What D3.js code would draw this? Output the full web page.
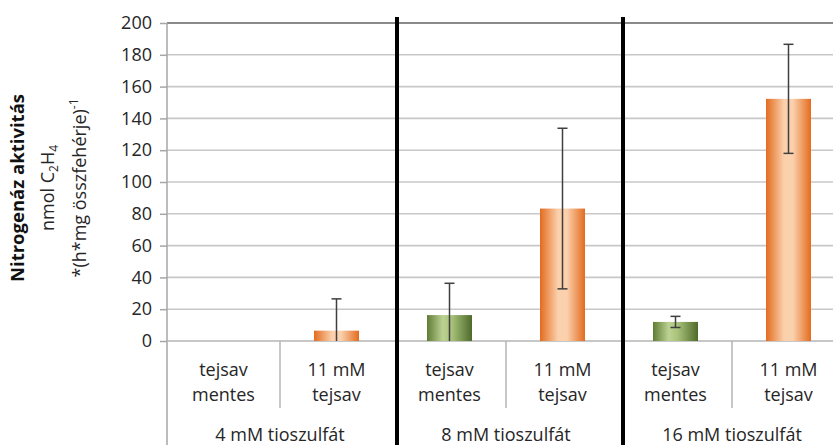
<!DOCTYPE html>
<html>
<head>
<meta charset="utf-8">
<script src="https://cdn.jsdelivr.net/npm/d3@7/dist/d3.min.js"></script>
<style>
  html, body { margin: 0; padding: 0; background: #fff; }
  svg { display: block; font-family: "Open Sans", Lato, sans-serif; }
</style>
</head>
<body>
<svg id="chart" width="833" height="445"></svg>
<script>
// Thiosulfate concentration groups and the two lactate conditions within each
const groups = ["4 mM tioszulfát", "8 mM tioszulfát", "16 mM tioszulfát"];
const subLabels = [["tejsav", "mentes"], ["11 mM", "tejsav"]];
const subKeys = ["mentes", "tejsav"];

// Nitrogenase activity (mean) and error (± value) per bar, in group order
const values = [0, 6.5, 16.3, 83.3, 12, 152.3];
const errors = [0, 20, 20, 50.5, 3.5, 34.3];

const yTicks = [0, 20, 40, 60, 80, 100, 120, 140, 160, 180, 200];

const bars = [];
groups.forEach((g, gi) => subKeys.forEach((k, ki) => {
  const i = gi * 2 + ki;
  bars.push({ id: i, group: g, gi, key: k, ki, value: values[i], err: errors[i] });
}));

const svg = d3.select("#chart");
const plotL = 167, plotR = 845, plotT = 23, plotB = 341;
const textCol = "#262626";

const x = d3.scaleBand().domain(bars.map(d => d.id)).range([plotL, plotR]).padding(0);
const y = d3.scaleLinear().domain([0, 200]).range([plotB, plotT]);

// gradients for the bar fills
const defs = svg.append("defs");
const gGreen = defs.append("linearGradient").attr("id", "gGreen").attr("x1", 0).attr("x2", 1);
[["0%", "#5f7c34"], ["35%", "#bcd293"], ["55%", "#a9c27a"], ["100%", "#4e6a2a"]]
  .forEach(([o, c]) => gGreen.append("stop").attr("offset", o).attr("stop-color", c));
const gOrange = defs.append("linearGradient").attr("id", "gOrange").attr("x1", 0).attr("x2", 1);
[["0%", "#e36c1e"], ["40%", "#fbd0ad"], ["60%", "#fbd0ad"], ["100%", "#e36c1e"]]
  .forEach(([o, c]) => gOrange.append("stop").attr("offset", o).attr("stop-color", c));

// horizontal gridlines
svg.append("g").selectAll("line").data(yTicks.filter(t => t > 0)).join("line")
  .attr("x1", plotL).attr("x2", 833)
  .attr("y1", d => y(d)).attr("y2", d => y(d))
  .attr("stroke", d => d === 200 ? "#8a8a8a" : "#c8c8c8")
  .attr("stroke-width", d => d === 200 ? 2 : 1.6);

// y axis
const yAxis = d3.axisLeft(y).tickValues(yTicks).tickSize(7).tickPadding(8);
const ya = svg.append("g").attr("transform", `translate(${plotL},0)`).call(yAxis);
ya.select(".domain").remove();
ya.selectAll(".tick line").attr("stroke", "#a6a6a6").attr("stroke-width", 1.5);
ya.selectAll(".tick text").attr("font-size", 18).attr("fill", textCol)
  .attr("font-family", "'Open Sans', sans-serif");
svg.append("line").attr("x1", plotL).attr("x2", plotL).attr("y1", plotT).attr("y2", 445)
  .attr("stroke", "#a6a6a6").attr("stroke-width", 1.5);

// category axis baseline and dividers
svg.append("line").attr("x1", plotL).attr("x2", 833).attr("y1", plotB).attr("y2", plotB)
  .attr("stroke", "#b5b5b5").attr("stroke-width", 1.6);
svg.append("g").selectAll("line").data(bars.filter(d => d.ki === 1)).join("line")
  .attr("x1", d => x(d.id)).attr("x2", d => x(d.id))
  .attr("y1", plotB).attr("y2", 408)
  .attr("stroke", "#b5b5b5").attr("stroke-width", 1.5);

// bars
const bw = 45;
svg.append("g").selectAll("rect").data(bars.filter(d => d.value > 0)).join("rect")
  .attr("x", d => x(d.id) + x.bandwidth() / 2 - bw / 2)
  .attr("width", bw)
  .attr("y", d => y(d.value))
  .attr("height", d => y(0) - y(d.value))
  .attr("fill", d => d.ki === 0 ? "url(#gGreen)" : "url(#gOrange)");

// error bars (lower end clipped at the axis)
const eb = svg.append("g").attr("stroke", "#3f3f3f").attr("stroke-width", 1.5);
bars.filter(d => d.err > 0).forEach(d => {
  const cx = x(d.id) + x.bandwidth() / 2;
  const hi = d.value + d.err, lo = Math.max(0, d.value - d.err);
  eb.append("line").attr("x1", cx).attr("x2", cx).attr("y1", y(hi)).attr("y2", y(lo));
  eb.append("line").attr("x1", cx - 5).attr("x2", cx + 5).attr("y1", y(hi)).attr("y2", y(hi));
  if (d.value - d.err > 0)
    eb.append("line").attr("x1", cx - 5).attr("x2", cx + 5).attr("y1", y(lo)).attr("y2", y(lo));
});

// sub-category labels
const lab = svg.append("g").attr("font-size", 18).attr("fill", textCol).attr("text-anchor", "middle");
bars.forEach(d => {
  const cx = x(d.id) + x.bandwidth() / 2;
  subLabels[d.ki].forEach((t, li) => {
    lab.append("text").attr("x", cx).attr("y", 376 + li * 25).text(t);
  });
});

// group labels
groups.forEach((g, gi) => {
  const x0 = x(gi * 2), x1 = x(gi * 2 + 1) + x.bandwidth();
  lab.append("text").attr("x", (x0 + x1) / 2).attr("y", 441).text(g);
});

// heavy group separators
svg.append("g").selectAll("line").data([1, 2]).join("line")
  .attr("x1", d => x(d * 2) + 4).attr("x2", d => x(d * 2) + 4)
  .attr("y1", 17).attr("y2", 445)
  .attr("stroke", "#000").attr("stroke-width", 4);

// y axis title
const title = svg.append("g").attr("transform", "translate(0,188) rotate(-90)")
  .attr("text-anchor", "middle").attr("fill", "#111");
title.append("text").attr("x", 0).attr("y", 24).attr("font-size", 18.5).attr("font-weight", "bold")
  .text("Nitrogenáz aktivitás");
const t2 = title.append("text").attr("x", 0).attr("y", 54).attr("font-size", 18).attr("fill", textCol);
t2.append("tspan").text("nmol C");
t2.append("tspan").attr("font-size", 12).attr("dy", 4).text("2");
t2.append("tspan").attr("dy", -4).text("H");
t2.append("tspan").attr("font-size", 12).attr("dy", 4).text("4");
const t3 = title.append("text").attr("x", 0).attr("y", 86).attr("font-size", 18).attr("fill", textCol);
t3.append("tspan").text("*(h*mg összfehérje)");
t3.append("tspan").attr("font-size", 12).attr("dy", -8).text("-1");
</script>
</body>
</html>
